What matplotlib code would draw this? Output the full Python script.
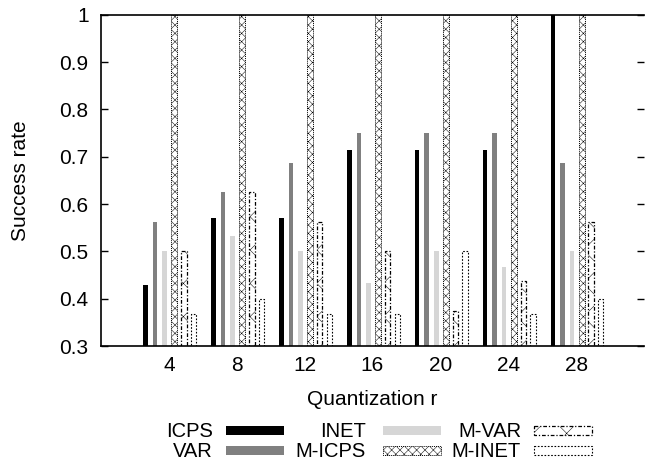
import matplotlib
matplotlib.use("Agg")
import matplotlib.pyplot as plt
from matplotlib.patches import Rectangle
import numpy as np

plt.rcParams['font.family'] = ['Liberation Sans', 'DejaVu Sans']
plt.rcParams['hatch.linewidth'] = 0.35

r_values = [4, 8, 12, 16, 20, 24, 28]
tick_labels = ["4", "8", "12", "16", "20", "24", "28"]
series_names = ["ICPS", "VAR", "INET", "M-ICPS", "M-VAR", "M-INET"]
icps = [0.429, 0.571, 0.571, 0.714, 0.714, 0.714, 1.0]
var = [0.5625, 0.625, 0.6875, 0.75, 0.75, 0.75, 0.6875]
inet = [0.5, 0.533, 0.5, 0.433, 0.5, 0.467, 0.5]
m_icps = [1.0, 1.0, 1.0, 1.0, 1.0, 1.0, 1.0]
m_var = [0.5, 0.625, 0.5625, 0.5, 0.375, 0.4375, 0.5625]
m_inet = [0.367, 0.4, 0.367, 0.367, 0.5, 0.367, 0.4]
yticks = [0.3, 0.4, 0.5, 0.6, 0.7, 0.8, 0.9, 1.0]
ytick_labels = ["0.3", "0.4", "0.5", "0.6", "0.7", "0.8", "0.9", "1"]

FS = 15
W, H = 645, 461
fig = plt.figure(figsize=(W / 100, H / 100), dpi=100)
ax = fig.add_axes([101 / W, 115 / H, (644 - 101) / W, (446.3 - 115) / H])

styles = [
    dict(color="black", width=0.27),
    dict(color="#808080", width=0.27),
    dict(color="#d6d6d6", width=0.27),
    dict(facecolor="white", edgecolor="black", hatch="xxxx", linestyle=(0, (1, 1)), linewidth=0.7, width=0.36),
    dict(facecolor="white", edgecolor="black", hatch="x", linestyle=(0, (3, 1.5, 1, 1.5)), linewidth=0.9, width=0.33),
    dict(facecolor="white", edgecolor="black", linestyle=(0, (1.5, 1.5)), linewidth=0.8, width=0.31),
]
data = [icps, var, inet, m_icps, m_var, m_inet]
x = np.array(r_values, dtype=float)
spacing = 0.565
for i, (vals, st) in enumerate(zip(data, styles)):
    st = dict(st)
    w = st.pop("width")
    off = (i - 2.5) * spacing + 0.04
    ax.bar(x + off, vals, width=w, bottom=0, **st)

ax.set_xlim(0, 32)
ax.set_ylim(0.3, 1.0)
ax.set_xticks(r_values)
ax.set_xticklabels(tick_labels, fontsize=FS)
ax.set_yticks(yticks)
ax.set_yticklabels(ytick_labels, fontsize=FS)
ax.tick_params(axis="x", length=0, pad=7)
ax.tick_params(axis="y", direction="in", length=5, width=1, pad=9, right=True)
ax.spines["right"].set_visible(False)
for s in ["left", "top", "bottom"]:
    ax.spines[s].set_linewidth(1.2)
ax.set_xlabel("Quantization r", fontsize=FS, labelpad=11)
ax.set_ylabel("Success rate", fontsize=FS, labelpad=21)

# legend drawn in pixel coordinates on an overlay
ov = fig.add_axes([0, 0, 1, 1])
ov.set_xlim(0, W)
ov.set_ylim(H, 0)
ov.axis("off")
cols = [(213, 226), (366, 383), (521, 534)]
rows = [430, 450]
sw, sh = 58, 9
for k, (name, st) in enumerate(zip(series_names, styles)):
    c, rw = divmod(k, 2)
    tx, sx = cols[c]
    yc = rows[rw]
    ov.text(tx, yc + 1, name, ha="right", va="center", fontsize=14.5)
    st = dict(st)
    st.pop("width")
    if "color" in st:
        rect = Rectangle((sx, yc - sh / 2), sw, sh, facecolor=st["color"], edgecolor="none")
    else:
        rect = Rectangle((sx, yc - sh / 2), sw, sh, **st)
    ov.add_patch(rect)

fig.savefig("out.png", dpi=100)
